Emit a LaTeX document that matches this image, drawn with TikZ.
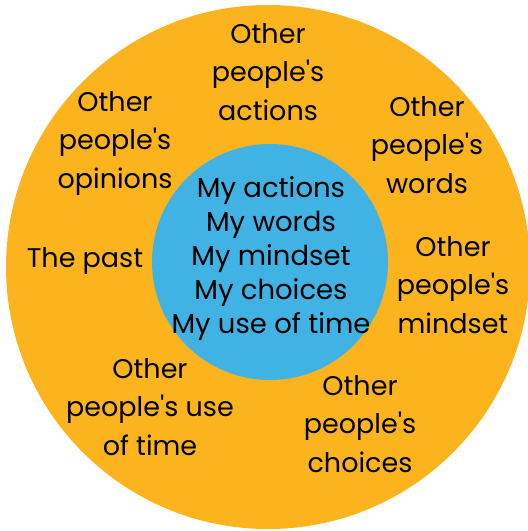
\documentclass[tikz,border=0pt]{standalone}
\usepackage{fontspec}
\setmainfont{Poppins}[Ligatures=TeXOff]
\definecolor{ringorange}{RGB}{252,180,30}
\definecolor{coreblue}{RGB}{64,179,228}

\begin{document}
\begin{tikzpicture}[x=1pt,y=-1pt,
        outer/.style={align=center,anchor=base,inner sep=0pt,font=\fontsize{27}{38.5}\selectfont},
        inner/.style={align=center,anchor=base,inner sep=0pt,font=\fontsize{27.5}{34}\selectfont}]
        \pgfmathsetmacro\R{262}
        \pgfmathsetmacro\r{118}
        \useasboundingbox (0,0) rectangle (528,531);
        \coordinate (O) at (268,267);
        \coordinate (C) at (270,262);
        \fill[ringorange] (O) circle (\R);
        \fill[coreblue] (C) circle (\r);
        % inner circle
        \node[inner] (mine) at (271,333) {My actions\\My words\\My mindset\\My choices\\My use of time};
        % outer ring
        \node[outer] (actions) at (268,120) {Other\\people's\\actions};
        \node[outer] (opinions) at (115,188) {Other\\people's\\opinions};
        \node[outer] (words) at (427,193) {Other\\people's\\words};
        \node[outer] (past) at (85,267) {The past};
        \node[outer] (mindset) at (453,333) {Other\\people's\\mindset};
        \node[outer] (time) at (150,455) {Other\\people's use\\of time};
        \node[outer] (choices) at (360,472) {Other\\people's\\choices};
    \end{tikzpicture}
\end{document}
